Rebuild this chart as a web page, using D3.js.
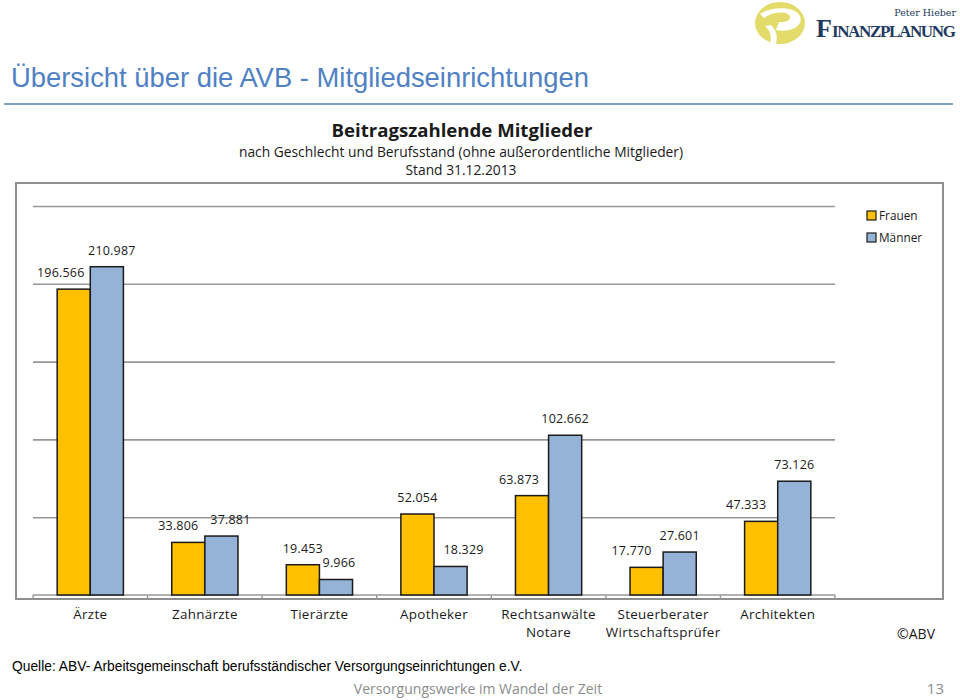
<!DOCTYPE html>
<html><head><meta charset="utf-8">
<script src="https://cdn.jsdelivr.net/npm/d3@7/dist/d3.min.js"></script>
<style>
html,body{margin:0;padding:0;background:#fff;}
svg{display:block;}
</style></head>
<body>
<svg id="c" width="960" height="700"></svg>
<script>
// ---- data ----
const categories = ["Ärzte","Zahnärzte","Tierärzte","Apotheker","Rechtsanwälte\nNotare","Steuerberater\nWirtschaftsprüfer","Architekten"];
const frauen = [196566, 33806, 19453, 52054, 63873, 17770, 47333];
const maenner = [210987, 37881, 9966, 18329, 102662, 27601, 73126];
const seriesNames = ["Frauen","Männer"];
const yTicks = [0, 50000, 100000, 150000, 200000, 250000];

// ---- layout (not data) ----
const colors = {Frauen:"#FFC000", "Männer":"#95B3D7"};
const labelNudge = {Frauen:[-13,-10,0,0,-13,-15,-15], "Männer":[5,9,3,13,0,0,0]};

const svg = d3.select("#c");
const font = "'Open Sans', sans-serif";

// Page title
svg.append("text").attr("x",11).attr("y",87).attr("font-family","Arial, 'Liberation Sans', sans-serif")
  .attr("font-size",27.4).attr("fill","#4F81C4").text("Übersicht über die AVB - Mitgliedseinrichtungen");
svg.append("line").attr("x1",4).attr("x2",953).attr("y1",104).attr("y2",104).attr("stroke","#7FA2CC").attr("stroke-width",2);

// Logo
const logo = svg.append("g");
logo.append("ellipse").attr("cx",780).attr("cy",23).attr("rx",25).attr("ry",21).attr("fill","#E3DC6A");
logo.append("path").attr("d","M760,14 C772,6 795,6 800,16 C804,26 790,33 776,30 L779,22 C788,23 792,19 789,15 C785,11 772,12 764,18 Z").attr("fill","#fff");
logo.append("path").attr("d","M765,26 C770,30 772,36 770,44 L776,44 C778,36 776,30 771,25 Z").attr("fill","#fff");
logo.append("text").attr("x",956).attr("y",16).attr("text-anchor","end").attr("font-family","'DejaVu Serif', 'Liberation Serif', serif")
  .attr("font-size",9.5).attr("fill","#1F3A60").text("Peter Hieber");
const fz = logo.append("text").attr("x",816).attr("y",37).attr("font-family","'Liberation Serif', serif").attr("fill","#1F3A60").attr("font-weight","bold");
fz.append("tspan").attr("font-size",26).text("F");
fz.append("tspan").attr("font-size",17).attr("textLength",124).text("INANZPLANUNG");

// Chart titles
svg.append("text").attr("x",462).attr("y",137).attr("text-anchor","middle").attr("font-family",font)
  .attr("font-size",18.6).attr("font-weight","bold").attr("fill","#1a1a1a").text("Beitragszahlende Mitglieder");
svg.append("text").attr("x",461).attr("y",157).attr("text-anchor","middle").attr("font-family",font)
  .attr("font-size",13.8).attr("fill","#1a1a1a").text("nach Geschlecht und Berufsstand (ohne außerordentliche Mitglieder)");
svg.append("text").attr("x",461).attr("y",175).attr("text-anchor","middle").attr("font-family",font)
  .attr("font-size",13.8).attr("fill","#1a1a1a").text("Stand 31.12.2013");

// Frame
svg.append("rect").attr("x",16).attr("y",183).attr("width",927).attr("height",416)
  .attr("fill","none").attr("stroke","#8E8E8E").attr("stroke-width",2);

// Scales
const x0 = d3.scaleBand().domain(categories).range([33,835]).paddingInner(0).paddingOuter(0);
const x1 = d3.scaleBand().domain(seriesNames).range([0,x0.bandwidth()]).paddingInner(0).paddingOuter(0.73);
const y = d3.scaleLinear().domain([0,250000]).range([595,206]);

// Gridlines
const grid = svg.append("g").attr("transform","translate(33,0)")
  .call(d3.axisLeft(y).tickValues(yTicks.slice(1)).tickSize(-(835-33)).tickFormat(""));
grid.select(".domain").remove();
grid.selectAll("line").attr("stroke","#979797").attr("stroke-width",1.6);

// Category axis baseline with boundary ticks
const xa = svg.append("g");
xa.append("line").attr("x1",x0.range()[0]).attr("x2",x0.range()[1]).attr("y1",y(0)).attr("y2",y(0))
  .attr("stroke","#979797").attr("stroke-width",1.6);
const bounds = categories.map(c=>x0(c)).concat([x0.range()[1]]);
xa.selectAll("line.tk").data(bounds).join("line").attr("class","tk")
  .attr("x1",d=>d).attr("x2",d=>d).attr("y1",y(0)).attr("y2",y(0)+5)
  .attr("stroke","#979797").attr("stroke-width",1.4);

// Bars
const rows = categories.map((c,i)=>({cat:c, i, vals:[{s:"Frauen",v:frauen[i]},{s:"Männer",v:maenner[i]}]}));
const fmt = v => d3.format(",")(v).replace(/,/g,".");
const g = svg.append("g").selectAll("g").data(rows).join("g").attr("transform",d=>`translate(${x0(d.cat)},0)`);
g.selectAll("rect").data(d=>d.vals).join("rect")
  .attr("x",d=>x1(d.s)).attr("width",x1.bandwidth())
  .attr("y",d=>y(d.v)).attr("height",d=>y(0)-y(d.v))
  .attr("fill",d=>colors[d.s]).attr("stroke","#1b1b1b").attr("stroke-width",1.5);
g.selectAll("text").data(d=>d.vals.map(v=>({...v,i:d.i}))).join("text")
  .attr("x",d=>x1(d.s)+x1.bandwidth()/2+labelNudge[d.s][d.i])
  .attr("y",d=>y(d.v)-12)
  .attr("text-anchor","middle").attr("font-family",font).attr("font-size",12.5).attr("fill","#1a1a1a")
  .attr("letter-spacing",0.2)
  .text(d=>fmt(d.v));

// Category labels
const cl = svg.append("g").selectAll("text").data(categories).join("text")
  .attr("x",d=>x0(d)+x0.bandwidth()/2).attr("y",619)
  .attr("text-anchor","middle").attr("font-family",font).attr("font-size",13.4).attr("fill","#1a1a1a")
  .attr("letter-spacing",0.3);
cl.each(function(d){
  const lines = d.split("\n");
  const t = d3.select(this);
  lines.forEach((l,k)=>t.append("tspan").attr("x",x0(d)+x0.bandwidth()/2).attr("dy",k?18:0).text(l));
});

// Legend
const lg = svg.append("g").selectAll("g").data(seriesNames).join("g")
  .attr("transform",(d,i)=>`translate(867,${211+i*22})`);
lg.append("rect").attr("width",9).attr("height",9).attr("fill",d=>colors[d]).attr("stroke","#1b1b1b").attr("stroke-width",1.2);
lg.append("text").attr("x",12).attr("y",8.5).attr("font-family",font).attr("font-size",11.8).attr("fill","#1a1a1a").text(d=>d);

// ©ABV
svg.append("text").attr("x",935).attr("y",639).attr("text-anchor","end").attr("font-family",font)
  .attr("font-size",14).attr("fill","#1a1a1a").text("©ABV");

// Source
svg.append("text").attr("x",12).attr("y",671).attr("font-family","Arial, 'Liberation Sans', sans-serif")
  .attr("font-size",13.8).attr("fill","#000").text("Quelle: ABV- Arbeitsgemeinschaft berufsständischer Versorgungseinrichtungen e.V.");

// Footer
svg.append("text").attr("x",478).attr("y",694).attr("text-anchor","middle").attr("font-family",font)
  .attr("font-size",14).attr("fill","#8C8C8C").text("Versorgungswerke im Wandel der Zeit");
svg.append("text").attr("x",944).attr("y",694).attr("text-anchor","end").attr("font-family",font)
  .attr("font-size",15).attr("fill","#8C8C8C").text("13");
</script>
</body></html>
